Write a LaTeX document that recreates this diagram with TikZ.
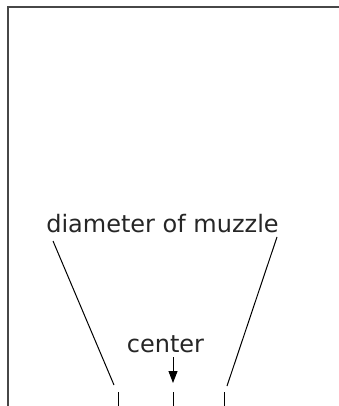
\documentclass[tikz,border=0pt]{standalone}
\usepackage{fontspec}
\setmainfont{DejaVu Sans}
\usetikzlibrary{arrows.meta}
\begin{document}
\begin{tikzpicture}[x=1pt,y=-1pt,
  frame/.style={draw=black!72,line width=2pt},
  lbl/.style={inner sep=0pt,anchor=base,text=black!85,font=\fontsize{24}{27}\selectfont},
  guide/.style={draw=black,line width=1pt},
  tick/.style={draw=black,line width=1pt}]
\useasboundingbox (0,0) rectangle (339,406);
\fill[white] (0,0) rectangle (339,406);
% frame
\coordinate (fbl) at (8,406);
\coordinate (ftl) at (8,7);
\coordinate (ftr) at (339,7);
\draw[frame] (fbl) -- (ftl) -- (ftr);
% labels
\node[lbl] (diam) at (162.5,232) {diameter of muzzle};
\node[lbl] (cen) at (165.5,352) {center};
% guide lines
\coordinate (la) at (53,241);
\coordinate (lb) at (114,385);
\coordinate (ra) at (277,237);
\coordinate (rb) at (227,386);
\draw[guide] (la) -- (lb);
\draw[guide] (ra) -- (rb);
% arrow
\coordinate (atop) at (173,357);
\coordinate (atip) at (173,383);
\draw[guide,-{Triangle[length=12pt,width=9pt]}] (atop) -- (atip);
% ticks
\coordinate (t1a) at (118,392); \coordinate (t1b) at (118,406);
\coordinate (t2a) at (173,392); \coordinate (t2b) at (173,406);
\coordinate (t3a) at (224,392); \coordinate (t3b) at (224,406);
\draw[tick] (t1a) -- (t1b);
\draw[tick] (t2a) -- (t2b);
\draw[tick] (t3a) -- (t3b);
\end{tikzpicture}
\end{document}
